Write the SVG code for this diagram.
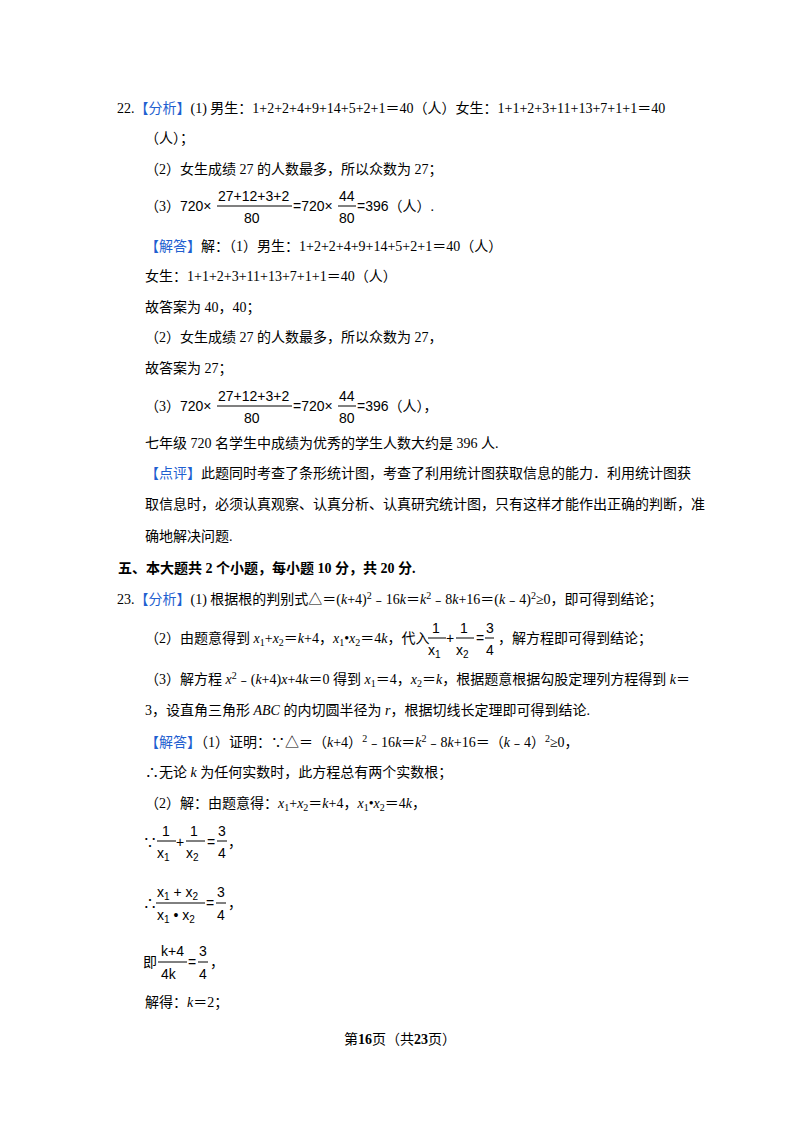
<svg xmlns="http://www.w3.org/2000/svg" width="800" height="1132" viewBox="0 0 800 1132">
<style>
text{font-family:"Liberation Serif","Noto Sans CJK SC",serif;font-size:14px;fill:#000}
.b{fill:#1f5fd0}
.f{font-family:"Liberation Sans","Noto Sans CJK SC",sans-serif;font-size:14px}
.i{font-style:italic}
.h{font-weight:bold}
line{stroke:#000;stroke-width:1}
</style>
<rect width="800" height="1132" fill="#fff"/>
<g id="p22">
<text x="117" y="113">22.<tspan class="b">【分析】</tspan>(1) 男生：1+2+2+4+9+14+5+2+1＝40（人）女生：1+1+2+3+11+13+7+1+1＝40</text>
<text x="145" y="143">（人）；</text>
<text x="145" y="174">（2）女生成绩 27 的人数最多，所以众数为 27；</text>
<text x="145" y="211">（3）<tspan class="f">720×</tspan></text>
<text class="f" x="218" y="201">27+12+3+2</text><line x1="217" y1="206" x2="292" y2="206"/><text class="f" x="244" y="223">80</text>
<text class="f" x="293" y="211">=720×</text>
<text class="f" x="339" y="201">44</text><line x1="338" y1="206" x2="356" y2="206"/><text class="f" x="339" y="223">80</text>
<text x="357" y="211"><tspan class="f">=396</tspan>（人）.</text>
<text x="145" y="251"><tspan class="b">【解答】</tspan>解：（1）男生：1+2+2+4+9+14+5+2+1＝40（人）</text>
<text x="145" y="281">女生：1+1+2+3+11+13+7+1+1＝40（人）</text>
<text x="145" y="312">故答案为 40，40；</text>
<text x="145" y="342">（2）女生成绩 27 的人数最多，所以众数为 27，</text>
<text x="145" y="373">故答案为 27；</text>
<text x="145" y="411">（3）<tspan class="f">720×</tspan></text>
<text class="f" x="218" y="401">27+12+3+2</text><line x1="217" y1="406" x2="292" y2="406"/><text class="f" x="244" y="423">80</text>
<text class="f" x="293" y="411">=720×</text>
<text class="f" x="339" y="401">44</text><line x1="338" y1="406" x2="356" y2="406"/><text class="f" x="339" y="423">80</text>
<text x="357" y="411"><tspan class="f">=396</tspan>（人），</text>
<text x="145" y="448">七年级 720 名学生中成绩为优秀的学生人数大约是 396 人.</text>
<text x="145" y="478"><tspan class="b">【点评】</tspan>此题同时考查了条形统计图，考查了利用统计图获取信息的能力．利用统计图获</text>
<text x="145" y="509">取信息时，必须认真观察、认真分析、认真研究统计图，只有这样才能作出正确的判断，准</text>
<text x="145" y="541">确地解决问题.</text>
</g>
<g id="sec5"><text class="h" x="118" y="573">五、本大题共 2 个小题，每小题 10 分，共 20 分.</text></g>
<g id="p23">
<text x="117" y="604">23.<tspan class="b">【分析】</tspan>(1) 根据根的判别式△＝(<tspan class="i">k</tspan>+4)<tspan dy="-5" font-size="10">2</tspan><tspan dy="5">﹣16</tspan><tspan class="i">k</tspan>＝<tspan class="i">k</tspan><tspan dy="-5" font-size="10">2</tspan><tspan dy="5">﹣8</tspan><tspan class="i">k</tspan>+16＝(<tspan class="i">k</tspan>﹣4)<tspan dy="-5" font-size="10">2</tspan><tspan dy="5">≥0，即可得到结论；</tspan></text>
<text x="145" y="643">（2）由题意得到 <tspan class="i">x</tspan><tspan font-size="10" dy="3">1</tspan><tspan dy="-3">+</tspan><tspan class="i">x</tspan><tspan font-size="10" dy="3">2</tspan><tspan dy="-3">＝</tspan><tspan class="i">k</tspan>+4，<tspan class="i">x</tspan><tspan font-size="10" dy="3">1</tspan><tspan dy="-3">•</tspan><tspan class="i">x</tspan><tspan font-size="10" dy="3">2</tspan><tspan dy="-3">＝4</tspan><tspan class="i">k</tspan>，代入</text>
<text class="f" x="432" y="633">1</text><line x1="428" y1="638" x2="446" y2="638"/><text class="f" x="428" y="655">x<tspan font-size="10" dy="3">1</tspan></text>
<text class="f" x="446" y="643">+</text>
<text class="f" x="460" y="633">1</text><line x1="456" y1="638" x2="474" y2="638"/><text class="f" x="456" y="655">x<tspan font-size="10" dy="3">2</tspan></text>
<text class="f" x="476" y="643">=</text>
<text class="f" x="486" y="633">3</text><line x1="485" y1="638" x2="494" y2="638"/><text class="f" x="486" y="655">4</text>
<text x="498" y="643">，解方程即可得到结论；</text>
<text x="145" y="684">（3）解方程 <tspan class="i">x</tspan><tspan dy="-5" font-size="10">2</tspan><tspan dy="5">﹣(</tspan><tspan class="i">k</tspan>+4)<tspan class="i">x</tspan>+4<tspan class="i">k</tspan>＝0 得到 <tspan class="i">x</tspan><tspan font-size="10" dy="3">1</tspan><tspan dy="-3">＝4，</tspan><tspan class="i">x</tspan><tspan font-size="10" dy="3">2</tspan><tspan dy="-3">＝</tspan><tspan class="i">k</tspan>，根据题意根据勾股定理列方程得到 <tspan class="i">k</tspan>＝</text>
<text x="145" y="715">3，设直角三角形 <tspan class="i">ABC</tspan> 的内切圆半径为 <tspan class="i">r</tspan>，根据切线长定理即可得到结论.</text>
<text x="145" y="747"><tspan class="b">【解答】</tspan>（1）证明：∵△＝（<tspan class="i">k</tspan>+4）<tspan dy="-5" font-size="10">2</tspan><tspan dy="5">﹣16</tspan><tspan class="i">k</tspan>＝<tspan class="i">k</tspan><tspan dy="-5" font-size="10">2</tspan><tspan dy="5">﹣8</tspan><tspan class="i">k</tspan>+16＝（<tspan class="i">k</tspan>﹣4）<tspan dy="-5" font-size="10">2</tspan><tspan dy="5">≥0，</tspan></text>
<text x="145" y="777">∴无论 <tspan class="i">k</tspan> 为任何实数时，此方程总有两个实数根；</text>
<text x="145" y="808">（2）解：由题意得：<tspan class="i">x</tspan><tspan font-size="10" dy="3">1</tspan><tspan dy="-3">+</tspan><tspan class="i">x</tspan><tspan font-size="10" dy="3">2</tspan><tspan dy="-3">＝</tspan><tspan class="i">k</tspan>+4，<tspan class="i">x</tspan><tspan font-size="10" dy="3">1</tspan><tspan dy="-3">•</tspan><tspan class="i">x</tspan><tspan font-size="10" dy="3">2</tspan><tspan dy="-3">＝4</tspan><tspan class="i">k</tspan>，</text>
<text x="143" y="847">∵</text>
<text class="f" x="162" y="836">1</text><line x1="157" y1="841" x2="176" y2="841"/><text class="f" x="157" y="858">x<tspan font-size="10" dy="3">1</tspan></text>
<text class="f" x="176" y="847">+</text>
<text class="f" x="190" y="836">1</text><line x1="186" y1="841" x2="205" y2="841"/><text class="f" x="186" y="858">x<tspan font-size="10" dy="3">2</tspan></text>
<text class="f" x="207" y="847">=</text>
<text class="f" x="218" y="836">3</text><line x1="217" y1="841" x2="227" y2="841"/><text class="f" x="218" y="858">4</text>
<text x="228" y="847">，</text>
<text x="143" y="908">∴</text>
<text class="f" x="157" y="897">x<tspan font-size="10" dy="3">1</tspan><tspan dy="-3"> + x</tspan><tspan font-size="10" dy="3">2</tspan></text><line x1="156" y1="903" x2="205" y2="903"/><text class="f" x="157" y="920">x<tspan font-size="10" dy="3">1</tspan><tspan dy="-3"> • x</tspan><tspan font-size="10" dy="3">2</tspan></text>
<text class="f" x="206" y="908">=</text>
<text class="f" x="217" y="897">3</text><line x1="216" y1="903" x2="226" y2="903"/><text class="f" x="217" y="920">4</text>
<text x="228" y="908">，</text>
<text x="143" y="967">即</text>
<text class="f" x="161" y="956">k+4</text><line x1="158" y1="962" x2="187" y2="962"/><text class="f" x="161" y="979">4k</text>
<text class="f" x="188" y="967">=</text>
<text class="f" x="199" y="956">3</text><line x1="198" y1="962" x2="208" y2="962"/><text class="f" x="199" y="979">4</text>
<text x="210" y="967">，</text>
<text x="145" y="1007">解得：<tspan class="i">k</tspan>＝2；</text>
</g>
<g id="footer"><text x="400" y="1044" text-anchor="middle" font-size="13">第<tspan class="h">16</tspan>页（共<tspan class="h">23</tspan>页）</text></g>
</svg>
